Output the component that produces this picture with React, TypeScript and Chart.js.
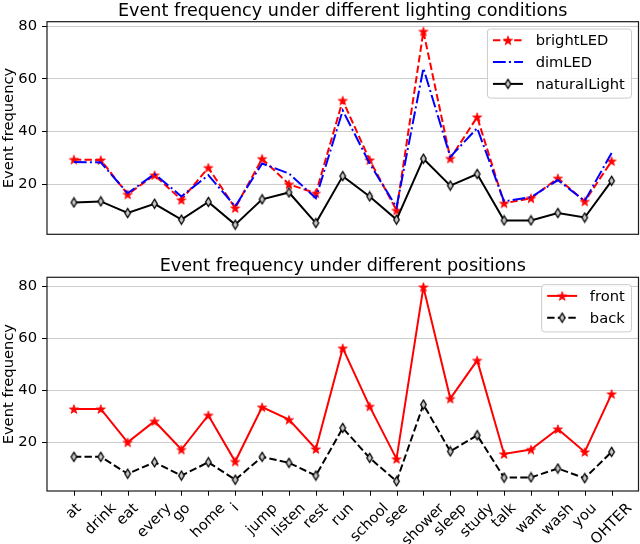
import { useEffect, useRef } from "react";
import { Chart, registerables, type Plugin } from "chart.js";

Chart.register(...registerables);

const FONT = "'DejaVu Sans', 'Liberation Sans', sans-serif";
const FS = 14.7;

const categories = [
  "at", "drink", "eat", "every", "go", "home", "i", "jump", "listen", "rest", "run",
  "school", "see", "shower", "sleep", "study", "talk", "want", "wash", "you", "OHTER",
];

// lighting panel
const brightLED = [29.4, 29.2, 16.2, 23.5, 14.1, 26.3, 11.0, 29.7, 20.0, 16.6, 51.8, 29.2, 10.1, 78.0, 29.8, 45.5, 12.8, 14.7, 22.3, 13.5, 28.8];
const dimLED = [28.5, 28.3, 16.6, 23.9, 15.4, 23.5, 11.6, 27.9, 24.1, 14.7, 48.0, 27.9, 11.3, 64.0, 30.4, 41.3, 13.5, 15.1, 21.6, 13.7, 31.9];
const naturalLight = [13.1, 13.5, 9.1, 12.6, 6.6, 13.3, 4.7, 14.3, 16.9, 5.3, 23.1, 15.4, 6.6, 29.7, 19.5, 23.9, 6.3, 6.3, 9.1, 7.4, 21.3];

// position panel
const front = [32.8, 32.8, 20.0, 28.1, 17.2, 30.4, 12.6, 33.5, 28.7, 17.4, 56.2, 33.8, 13.6, 79.7, 36.8, 51.5, 15.5, 17.2, 25.1, 16.3, 38.6];
const back = [14.4, 14.4, 7.9, 12.3, 7.2, 12.3, 5.6, 14.4, 12.1, 7.2, 25.5, 14.0, 5.0, 34.5, 16.5, 22.7, 6.4, 6.5, 9.9, 6.2, 16.3];

const yTicks = [20, 40, 60, 80];

type Marker = "star" | "diamond" | null;

type Series = {
  label: string;
  values: number[];
  color: string;
  dash: number[];
  marker: Marker;
  order: number;
};

const lightingSeries: Series[] = [
  { label: "brightLED", values: brightLED, color: "#ff0000", dash: [7.4, 3.2], marker: "star", order: 2 },
  { label: "dimLED", values: dimLED, color: "#0000ff", dash: [12.8, 3.2, 2, 3.2], marker: null, order: 1 },
  { label: "naturalLight", values: naturalLight, color: "#000000", dash: [], marker: "diamond", order: 0 },
];

const positionSeries: Series[] = [
  { label: "front", values: front, color: "#ff0000", dash: [], marker: "star", order: 1 },
  { label: "back", values: back, color: "#000000", dash: [7.4, 3.2], marker: "diamond", order: 0 },
];

function makeMarker(kind: Marker, color: string): HTMLCanvasElement | null {
  if (!kind) return null;
  const c = document.createElement("canvas");
  const g = c.getContext("2d")!;
  if (kind === "star") {
    const r = 4.8;
    const s = Math.ceil(r * 2 + 2);
    c.width = s;
    c.height = s;
    g.translate(s / 2, s / 2 + 0.5);
    g.beginPath();
    for (let k = 0; k < 10; k++) {
      const ang = -Math.PI / 2 + (k * Math.PI) / 5;
      const rad = k % 2 ? r * 0.4 : r;
      g.lineTo(Math.cos(ang) * rad, Math.sin(ang) * rad);
    }
    g.closePath();
    g.fillStyle = color;
    g.fill();
    g.strokeStyle = color;
    g.lineWidth = 0.8;
    g.stroke();
  } else {
    c.width = 9;
    c.height = 12;
    g.translate(4.5, 6);
    g.beginPath();
    g.moveTo(0, -4.6);
    g.lineTo(2.8, 0);
    g.lineTo(0, 4.6);
    g.lineTo(-2.8, 0);
    g.closePath();
    g.fillStyle = "#c8c8c8";
    g.fill();
    g.strokeStyle = color;
    g.lineWidth = 1.3;
    g.stroke();
  }
  return c;
}

function axisRange(series: Series[]): [number, number] {
  const all = series.flatMap((s) => s.values);
  const lo = Math.min(...all);
  const hi = Math.max(...all);
  const m = (hi - lo) * 0.05;
  return [lo - m, hi + m];
}

function decoPlugin(
  title: string,
  titleBaseline: number,
  series: Series[],
  markers: (HTMLCanvasElement | null)[],
  showXLabels: boolean
): Plugin<"line"> {
  return {
    id: "deco",
    afterDraw(chart) {
      const { ctx, chartArea: a } = chart;
      ctx.save();

      // frame
      ctx.setLineDash([]);
      ctx.strokeStyle = "#1a1a1a";
      ctx.lineWidth = 1.2;
      ctx.strokeRect(a.left, a.top, a.right - a.left, a.bottom - a.top);

      // title
      ctx.fillStyle = "#000";
      ctx.font = `17.6px ${FONT}`;
      ctx.textAlign = "center";
      ctx.textBaseline = "alphabetic";
      ctx.fillText(title, (a.left + a.right) / 2, titleBaseline);

      // legend
      ctx.font = `${FS}px ${FONT}`;
      const maxW = Math.max(...series.map((s) => ctx.measureText(s.label).width));
      const padL = 5.5;
      const handle = 30;
      const gap = 12.7;
      const padR = 6.7;
      const rowH = 21.8;
      const boxW = padL + handle + gap + maxW + padR;
      const boxH = (series.length - 1) * rowH + 25.5;
      const bx = a.right - 7 - boxW;
      const by = a.top + 7.3;
      ctx.beginPath();
      ctx.roundRect(bx, by, boxW, boxH, 3);
      ctx.fillStyle = "rgba(255,255,255,0.85)";
      ctx.fill();
      ctx.strokeStyle = "#cccccc";
      ctx.lineWidth = 1;
      ctx.stroke();
      series.forEach((s, i) => {
        const y = by + 11.3 + i * rowH;
        const x0 = bx + padL;
        ctx.beginPath();
        ctx.setLineDash(s.dash);
        ctx.strokeStyle = s.color;
        ctx.lineWidth = 2;
        ctx.moveTo(x0, y);
        ctx.lineTo(x0 + handle, y);
        ctx.stroke();
        ctx.setLineDash([]);
        const m = markers[i];
        if (m) ctx.drawImage(m, x0 + handle / 2 - m.width / 2, y - m.height / 2);
        ctx.fillStyle = "#000";
        ctx.textAlign = "left";
        ctx.textBaseline = "middle";
        ctx.fillText(s.label, x0 + handle + gap, y + 1);
      });

      // tick marks and rotated category labels
      if (showXLabels) {
        const xs = chart.scales.x;
        ctx.strokeStyle = "#000";
        ctx.lineWidth = 1;
        ctx.font = `${FS}px ${FONT}`;
        ctx.fillStyle = "#000";
        categories.forEach((c, i) => {
          const cx = xs.getPixelForValue(i);
          ctx.beginPath();
          ctx.moveTo(Math.round(cx) + 0.5, a.bottom);
          ctx.lineTo(Math.round(cx) + 0.5, a.bottom + 4.7);
          ctx.stroke();
          const w = ctx.measureText(c).width;
          const side = (w + 16) * Math.SQRT1_2;
          const cy = a.bottom + 9.5 + side / 2;
          ctx.save();
          ctx.translate(cx, cy);
          ctx.rotate(-Math.PI / 4);
          ctx.textAlign = "center";
          ctx.textBaseline = "middle";
          ctx.fillText(c, 0, 0);
          ctx.restore();
        });
      }

      ctx.restore();
    },
  };
}

function buildChart(
  canvas: HTMLCanvasElement,
  series: Series[],
  title: string,
  titleBaseline: number,
  padding: { left: number; right: number; top: number; bottom: number },
  showXLabels: boolean
) {
  const markers = series.map((s) => makeMarker(s.marker, s.color));
  const [yMin, yMax] = axisRange(series);
  return new Chart(canvas, {
    type: "line",
    data: {
      datasets: series.map((s, i) => ({
        label: s.label,
        data: s.values.map((y, x) => ({ x, y })),
        borderColor: s.color,
        backgroundColor: s.color,
        borderWidth: 2,
        borderDash: s.dash,
        pointStyle: markers[i] ?? "circle",
        pointRadius: markers[i] ? 4 : 0,
        tension: 0,
        fill: false,
        order: s.order,
      })),
    },
    options: {
      animation: false,
      responsive: false,
      layout: { padding },
      plugins: {
        legend: { display: false },
        title: { display: false },
        tooltip: { enabled: false },
      },
      scales: {
        x: { type: "linear", min: -1, max: 21, display: false },
        y: {
          min: yMin,
          max: yMax,
          afterBuildTicks: (s) => {
            s.ticks = yTicks.map((value) => ({ value }));
          },
          afterFit: (s) => {
            s.width = 47;
          },
          border: { display: false },
          grid: { color: "#cccccc", tickColor: "#000", tickLength: 5, lineWidth: 1 },
          ticks: { color: "#000", font: { family: FONT, size: FS }, padding: 5 },
          title: {
            display: true,
            text: "Event frequency",
            color: "#000",
            font: { family: FONT, size: FS },
            padding: { top: 0, bottom: 0 },
          },
        },
      },
    },
    plugins: [decoPlugin(title, titleBaseline, series, markers, showXLabels)],
  });
}

export default function App() {
  const topRef = useRef<HTMLCanvasElement | null>(null);
  const botRef = useRef<HTMLCanvasElement | null>(null);

  useEffect(() => {
    if (!topRef.current || !botRef.current) return;
    const top = buildChart(
      topRef.current,
      lightingSeries,
      "Event frequency under different lighting conditions",
      15.5,
      { left: 0, right: 6.5, top: 21.7, bottom: 15.7 },
      false
    );
    const bot = buildChart(
      botRef.current,
      positionSeries,
      "Event frequency under different positions",
      20.7,
      { left: 0, right: 6.5, top: 27.3, bottom: 53 },
      true
    );
    return () => {
      top.destroy();
      bot.destroy();
    };
  }, []);

  return (
    <div
      style={{
        position: "absolute",
        left: 0,
        top: 0,
        width: 640,
        height: 544,
        overflow: "hidden",
        background: "#fff",
      }}
    >
      <canvas ref={topRef} width={645} height={250} style={{ position: "absolute", left: 0, top: 0 }} />
      <canvas ref={botRef} width={645} height={294} style={{ position: "absolute", left: 0, top: 250 }} />
    </div>
  );
}
